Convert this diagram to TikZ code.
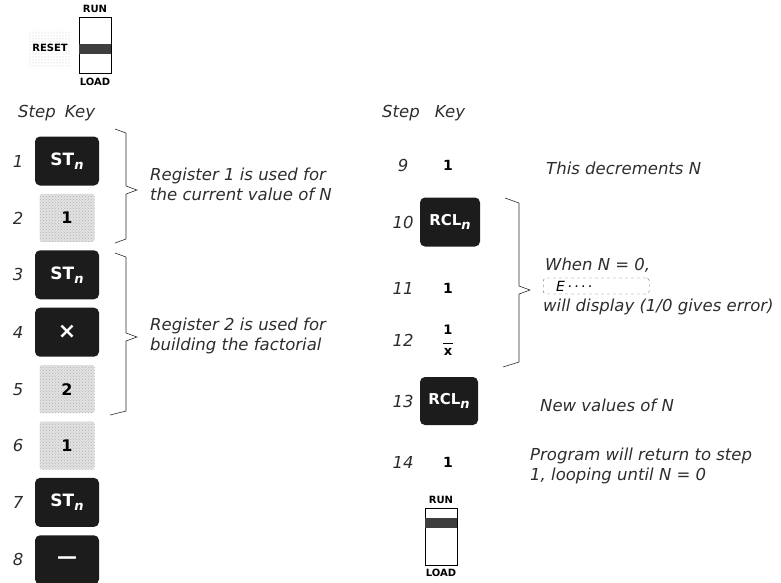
\documentclass[tikz,border=0pt]{standalone}
\usepackage{fontspec}
\setmainfont{DejaVu Sans}
\usepackage{tikz}
\usetikzlibrary{positioning,patterns}
\definecolor{keyblack}{RGB}{28, 28, 28}
\definecolor{keygrey}{RGB}{226, 226, 226}
\definecolor{inkgray}{RGB}{45, 45, 45}
\newcommand{\keyn}{\raisebox{-4pt}{\fontsize{13}{13}\selectfont\itshape n}}

\begin{document}
\begin{tikzpicture}[
    x=1pt, y=-1pt,
    node distance=8pt,
    darkkey/.style={rectangle, rounded corners=5pt, fill=keyblack, text=white,
                    minimum width=64pt, minimum height=49pt, inner sep=0pt,
                    font=\fontsize{17}{17}\selectfont\bfseries},
    greykey/.style={rectangle, rounded corners=2pt, preaction={fill=keygrey},
                    pattern=crosshatch dots, pattern color=black!30,
                    minimum width=55pt, minimum height=48pt, inner sep=0pt,
                    font=\fontsize{16}{16}\selectfont\bfseries},
    plainkey/.style={font=\fontsize{14}{14}\selectfont\bfseries, inner sep=1pt},
    stepno/.style={font=\fontsize{16.5}{20}\selectfont\itshape, text=inkgray, inner sep=1pt},
    note/.style={font=\fontsize{16.5}{20}\selectfont\itshape, text=inkgray,
                 anchor=west, align=left, inner sep=0pt},
    switchbox/.style={rectangle, draw=black, line width=0.7pt, minimum width=32pt,
                      minimum height=56pt, inner sep=0pt},
    switchlbl/.style={font=\fontsize{10}{10}\selectfont\bfseries, inner sep=0pt},
    resetkey/.style={rectangle, pattern=dots, pattern color=black!25, minimum width=42pt,
                     minimum height=36pt, font=\fontsize{10}{10}\selectfont\bfseries},
    display/.style={rectangle, draw=black!60, dashed, rounded corners=3pt, anchor=west,
                    text width=80pt, align=left, inner xsep=13pt, inner ysep=1pt,
                    minimum height=16pt, font=\fontsize{14}{14}\selectfont\itshape},
    brace/.style={line width=0.6pt, color=inkgray}
]
    \useasboundingbox (0,0) rectangle (781,582);

    % mode switch and reset
    \node[resetkey] (reset) at (50,48) {RESET};
    \node[switchbox] (sw1) at (95,45.5) {};
    \fill[keyblack!85] ([yshift=-27pt]sw1.north west) rectangle ([yshift=-37pt]sw1.north east);
    \node[switchlbl, above=4pt of sw1] (run1) {RUN};
    \node[switchlbl, below=4pt of sw1] (load1) {LOAD};

    % steps 1-8
    \node[stepno] (hstep1) at (37,113) {Step};
    \node[stepno] (hkey1) at (80,113) {Key};
    \node[darkkey] (k1) at (67,161) {ST\keyn};
    \node[greykey, below=of k1] (k2) {1};
    \node[darkkey, below=of k2] (k3) {ST\keyn};
    \node[darkkey, below=of k3] (k4) {\fontsize{22}{22}\selectfont ×};
    \node[greykey, below=of k4] (k5) {2};
    \node[greykey, below=of k5] (k6) {1};
    \node[darkkey, below=of k6] (k7) {ST\keyn};
    \node[darkkey, below=of k7] (k8) {\fontsize{20}{20}\selectfont ---};
    \coordinate (colA) at (18,0);
    \foreach \i in {1,...,8}
        \node[stepno] (s\i) at (colA |- k\i) {\i};

    % steps 9-14
    \node[stepno] (hstep2) at (401,113) {Step};
    \node[stepno] (hkey2) at (450,113) {Key};
    \node[plainkey] (k9) at (448,165) {1};
    \node[darkkey, minimum width=60pt, font=\fontsize{15}{15}\selectfont\bfseries] (k10) at (450,222) {RCL\keyn};
    \node[plainkey] (k11) at (448,288) {1};
    \node[plainkey, align=center, font=\fontsize{13}{13}\selectfont\bfseries] (k12) at (448,340) {1\\[-3pt]\rule{10pt}{1.2pt}\\[-2pt]x};
    \node[darkkey, minimum width=58pt, minimum height=48pt, font=\fontsize{15}{15}\selectfont\bfseries] (k13) at (449,401) {RCL\keyn};
    \node[plainkey] (k14) at (448,462) {1};
    \coordinate (colB) at (403,0);
    \foreach \i in {9,...,14}
        \node[stepno] (s\i) at (colB |- k\i) {\i};

    \node[switchbox, minimum height=57pt] (sw2) at (441,536.5) {};
    \fill[keyblack!85] ([yshift=-10pt]sw2.north west) rectangle ([yshift=-20pt]sw2.north east);
    \node[switchlbl, above=4pt of sw2] (run2) {RUN};
    \node[switchlbl, below=4pt of sw2] (load2) {LOAD};

    % braces
    \draw[brace] (115,129) -- (126,133) -- (126,186) -- (137,190) -- (126,194) -- (126,239) -- (115,243);
    \draw[brace] (115,253) -- (126,257) -- (126,333) -- (137,337) -- (126,341) -- (126,411) -- (110,415);
    \draw[brace] (505,198) -- (519,203) -- (519,286) -- (530,290) -- (519,294) -- (519,362) -- (503,367);

    % notes
    \node[note] (n1) at (150,184) {Register 1 is used for\\the current value of N};
    \node[note] (n2) at (150,336) {Register 2 is used for\\building the factorial};
    \node[note] (n3) at (546,168) {This decrements N};
    \node[note] (n4) at (545,265) {When N = 0,};
    \node[display] (disp) at (543,286) {E\,·\,·\,·\,·};
    \node[note] (n5) at (543,307) {will display (1/0 gives error)};
    \node[note] (n6) at (540,405) {New values of N};
    \node[note] (n7) at (530,466) {Program will return to step\\1, looping until N = 0};
\end{tikzpicture}
\end{document}
